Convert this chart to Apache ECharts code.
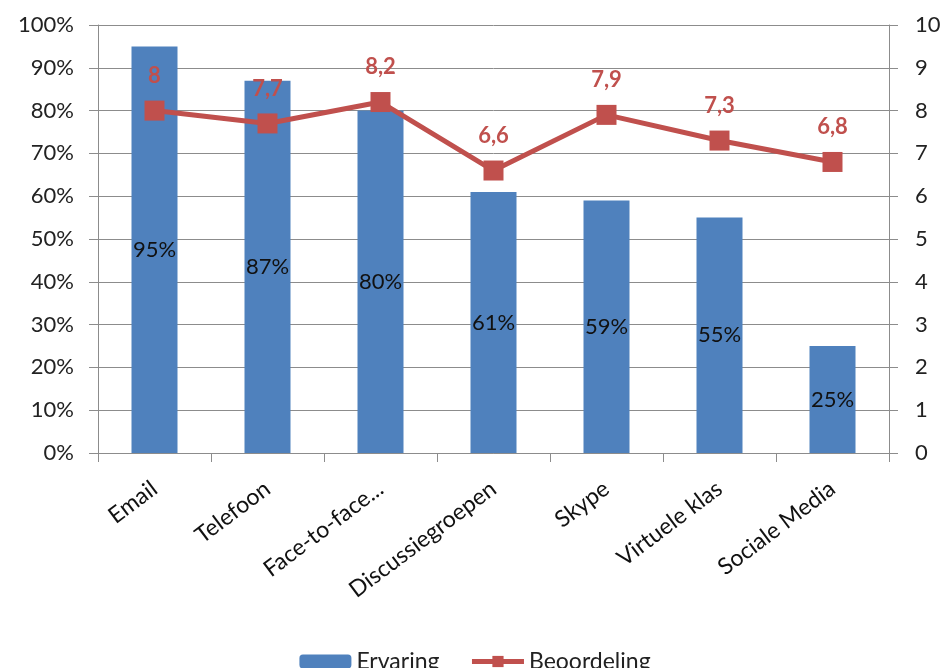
<!DOCTYPE html>
<html>
<head>
<meta charset="utf-8">
<script src="https://cdn.jsdelivr.net/npm/echarts@6/dist/echarts.min.js"></script>
<style>
html,body{margin:0;padding:0;background:#fff;}
#c{width:950px;height:668px;}
</style>
</head>
<body>
<div id="c"></div>
<script>
var categories = ['Email', 'Telefoon', 'Face-to-face...', 'Discussiegroepen', 'Skype', 'Virtuele klas', 'Sociale Media'];
var ervaring = [95, 87, 80, 61, 59, 55, 25];
var beoordeling = [8, 7.7, 8.2, 6.6, 7.9, 7.3, 6.8];
var leftTicks = {min: 0, max: 100, interval: 10};
var rightTicks = {min: 0, max: 10, interval: 1};

var FONT = 'Lato';
var gridColor = '#8c8c8c';
var chart = echarts.init(document.getElementById('c'));
chart.setOption({
  animation: false,
  textStyle: {fontFamily: FONT},
  grid: {left: 98, right: 61, top: 25, bottom: 215, containLabel: false},
  legend: {
    top: 645, left: 'center',
    itemWidth: 52, itemHeight: 14, itemGap: 30,
    textStyle: {fontFamily: FONT, fontSize: 23, color: '#222'},
    data: [
      {name: 'Ervaring'},
      {name: 'Beoordeling', lineStyle: {width: 5}, itemStyle: {color: '#C0504D'}}
    ]
  },
  xAxis: {
    type: 'category',
    data: categories,
    axisLine: {lineStyle: {color: gridColor, width: 1}},
    axisTick: {show: true, length: 9, lineStyle: {color: gridColor}},
    axisLabel: {rotate: 37, fontSize: 23, color: '#111', margin: 33, interval: 0, fontFamily: FONT}
  },
  yAxis: [{
    type: 'value',
    min: leftTicks.min, max: leftTicks.max, interval: leftTicks.interval,
    axisLine: {show: true, lineStyle: {color: gridColor}},
    axisTick: {show: true, length: 9, lineStyle: {color: gridColor}},
    axisLabel: {formatter: '{value}%', fontSize: 22, color: '#222', margin: 24, fontFamily: FONT},
    splitLine: {show: true, lineStyle: {color: gridColor, width: 1}}
  }, {
    type: 'value',
    min: rightTicks.min, max: rightTicks.max, interval: rightTicks.interval,
    axisLine: {show: true, lineStyle: {color: gridColor}},
    axisTick: {show: true, length: 9, lineStyle: {color: gridColor}},
    axisLabel: {fontSize: 22, color: '#222', margin: 26, fontFamily: FONT},
    splitLine: {show: false}
  }],
  series: [{
    name: 'Ervaring',
    type: 'bar',
    data: ervaring,
    barWidth: 46,
    itemStyle: {color: '#4F81BD'},
    label: {show: true, position: 'inside', formatter: '{c}%', fontSize: 22, color: '#111', fontFamily: FONT}
  }, {
    name: 'Beoordeling',
    type: 'line',
    yAxisIndex: 1,
    data: beoordeling,
    symbol: 'rect',
    symbolSize: 20,
    lineStyle: {color: '#C0504D', width: 5},
    itemStyle: {color: '#C0504D'},
    label: {
      show: true, position: 'top', distance: 14,
      fontSize: 22, fontWeight: 'bold', color: '#C0504D', fontFamily: FONT,
      formatter: function (p) { return String(p.value).replace('.', ','); }
    }
  }]
});
</script>
</body>
</html>
